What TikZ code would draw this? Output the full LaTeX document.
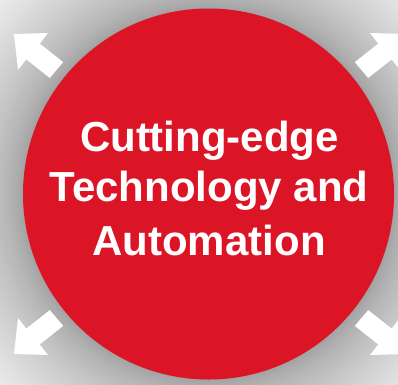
\documentclass[tikz,border=0pt]{standalone}
\usepackage{fontspec}
\setmainfont{Liberation Sans}
\definecolor{hubred}{RGB}{220,21,38}
\definecolor{g0}{RGB}{160,160,160}
\definecolor{g3}{RGB}{238,238,238}
\tikzset{
  blockarrow/.style={fill=white, draw=none},
  hubtext/.style={text=white, font=\bfseries\fontsize{42}{50}\selectfont, anchor=base, inner sep=0pt},
}
\newcommand{\cornerarrow}{(14,34) -- (48,33) -- (39.7,43.6) -- (63.2,62.1) -- (49.8,77.9) -- (26.3,59.4) -- (18,70) -- cycle}
\begin{document}
\begin{tikzpicture}[x=1pt, y=-1pt]
\useasboundingbox (0,0) rectangle (398,384);
\fill[g3] (0,0) rectangle (398,384);
\begin{scope}
\clip (0,0) rectangle (398,384);
\foreach \r in {290,288,...,186} {
  \pgfmathsetmacro\p{100*((\r-186)/104)^0.7}
  \fill[g3!\p!g0] (208.5,194) circle (\r pt);
}
\fill[blockarrow] \cornerarrow;
\begin{scope}[shift={(418,0)}, xscale=-1]
\fill[blockarrow] \cornerarrow;
\end{scope}
\begin{scope}[shift={(0,388)}, yscale=-1]
\fill[blockarrow] \cornerarrow;
\end{scope}
\begin{scope}[shift={(418,388)}, xscale=-1, yscale=-1]
\fill[blockarrow] \cornerarrow;
\end{scope}
\end{scope}
\node[circle, fill=hubred, draw=none, minimum size=371pt, inner sep=0pt] (hub) at (208.5,194) {};
\node[hubtext] (l1) at (209.5,151.7) {Cutting-edge};
\node[hubtext] (l2) at (209,201.7) {Technology and};
\node[hubtext] (l3) at (209,255) {Automation};
\end{tikzpicture}
\end{document}
